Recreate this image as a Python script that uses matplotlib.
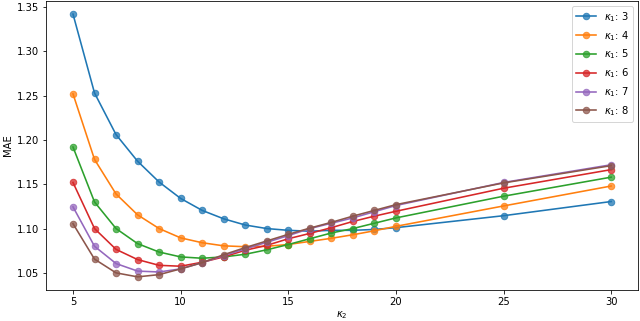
import numpy as np
import matplotlib
matplotlib.use("Agg")
import matplotlib.pyplot as plt
from matplotlib.colors import to_rgba

kappa2 = [5, 6, 7, 8, 9, 10, 11, 12, 13, 14, 15, 16, 17, 18, 19, 20, 25, 30]
kappa1 = [3, 4, 5, 6, 7, 8]

mae_k3 = [1.342, 1.253, 1.206, 1.176, 1.1525, 1.134, 1.1205, 1.111, 1.104, 1.100,
          1.098, 1.097, 1.098, 1.098, 1.099, 1.101, 1.1145, 1.1305]
mae_k4 = [1.252, 1.178, 1.139, 1.1155, 1.100, 1.0895, 1.084, 1.0805, 1.0795, 1.080,
          1.082, 1.0855, 1.089, 1.093, 1.0975, 1.1025, 1.1255, 1.148]
mae_k5 = [1.192, 1.130, 1.100, 1.083, 1.0735, 1.068, 1.0665, 1.068, 1.071, 1.076,
          1.082, 1.0885, 1.095, 1.100, 1.106, 1.112, 1.1365, 1.158]
mae_k6 = [1.152, 1.100, 1.0765, 1.065, 1.0585, 1.0575, 1.062, 1.068, 1.0755, 1.081,
          1.0885, 1.0945, 1.101, 1.108, 1.114, 1.1195, 1.1455, 1.1665]
mae_k7 = [1.1245, 1.080, 1.0605, 1.052, 1.051, 1.0545, 1.0615, 1.0695, 1.077, 1.0845,
          1.092, 1.100, 1.106, 1.112, 1.119, 1.126, 1.152, 1.172]
mae_k8 = [1.1055, 1.0655, 1.050, 1.0455, 1.048, 1.0545, 1.0615, 1.0705, 1.0785, 1.086,
          1.0935, 1.1005, 1.107, 1.114, 1.1205, 1.127, 1.1515, 1.171]

series = [mae_k3, mae_k4, mae_k5, mae_k6, mae_k7, mae_k8]

# drawn at 72 dpi so text and marks come out at the reference's smaller scale
fig = plt.figure(figsize=(640 / 72, 321 / 72), dpi=72)
ax = fig.add_axes([0.072, 0.0966, 0.925, 0.9004])

colors = plt.rcParams['axes.prop_cycle'].by_key()['color']
for i, (k, vals) in enumerate(zip(kappa1, series)):
    c = colors[i]
    ax.plot(kappa2, vals, '-o', color=c, lw=1.6, ms=6.5,
            mfc=to_rgba(c, 0.75), mec=to_rgba(c, 0.75),
            label=r'$\kappa_1$: %d' % k)

ax.set_xlabel(r'$\kappa_2$', labelpad=2)
ax.set_ylabel('MAE')
ax.legend(loc='upper right')

fig.savefig('out.png', dpi=72)
